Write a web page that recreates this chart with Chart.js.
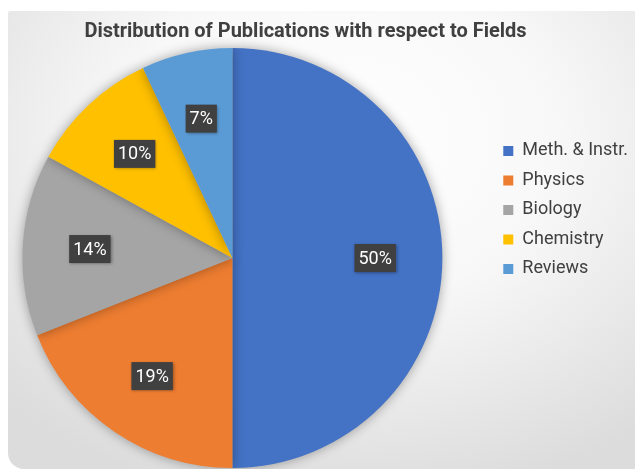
<!DOCTYPE html>
<html>
<head>
<meta charset="utf-8">
<script src="https://cdn.jsdelivr.net/npm/chart.js@4/dist/chart.umd.min.js"></script>
<style>
  html, body { margin: 0; padding: 0; background: #ffffff; overflow: hidden; }
  #wrap { position: relative; width: 635px; height: 469px; overflow: hidden; background: #ffffff; }
  #card {
    position: absolute; left: 8px; top: 11px; width: 640px; height: 458px;
    border-radius: 2px 0 0 16px;
    background: radial-gradient(ellipse 75% 80% at 52% 28%, #ffffff 0%, #f8f8f8 45%, #e6e6e6 80%, #dcdcdc 100%);
  }
  #chart { position: absolute; left: -27px; top: 0; }
</style>
</head>
<body>
<div id="wrap">
  <div id="card"></div>
  <canvas id="chart" width="665" height="469"></canvas>
</div>
<script>
  "use strict";

  var TITLE = "Distribution of Publications with respect to Fields";
  var FIELDS = ["Meth. & Instr.", "Physics", "Biology", "Chemistry", "Reviews"];
  var SHARES = [50, 19, 14, 10, 7];
  var COLORS = ["#4472c4", "#ed7d31", "#a5a5a5", "#ffc000", "#5b9bd5"];

  var INK = "#404040";
  var FONT = "Roboto, 'DejaVu Sans', sans-serif";

  // soft drop shadow under the pie
  var pieShadow = {
    id: "pieShadow",
    beforeDatasetsDraw: function (chart) {
      var ctx = chart.ctx;
      ctx.save();
      ctx.shadowColor = "rgba(0,0,0,0.35)";
      ctx.shadowBlur = 12;
      ctx.shadowOffsetX = 0;
      ctx.shadowOffsetY = 0;
    },
    afterDatasetsDraw: function (chart) {
      chart.ctx.restore();
    }
  };

  // percentage labels in dark boxes
  var sliceLabels = {
    id: "sliceLabels",
    afterDatasetsDraw: function (chart) {
      var ctx = chart.ctx;
      var meta = chart.getDatasetMeta(0);
      var values = chart.data.datasets[0].data;
      ctx.save();
      ctx.font = "18px " + FONT;
      ctx.textAlign = "center";
      ctx.textBaseline = "middle";
      meta.data.forEach(function (arc, i) {
        var p = arc.getProps(["x", "y", "startAngle", "endAngle", "outerRadius"], true);
        var mid = (p.startAngle + p.endAngle) / 2;
        var r = p.outerRadius * 0.68;
        var cx = p.x + Math.cos(mid) * r;
        var cy = p.y + Math.sin(mid) * r;
        var text = values[i] + "%";
        var w = ctx.measureText(text).width + 8;
        var h = 28;
        ctx.shadowColor = "rgba(0,0,0,0.35)";
        ctx.shadowBlur = 3;
        ctx.shadowOffsetX = 1;
        ctx.shadowOffsetY = 1;
        ctx.fillStyle = "#404040";
        ctx.fillRect(cx - w / 2, cy - h / 2, w, h);
        ctx.shadowColor = "transparent";
        ctx.fillStyle = "#ffffff";
        ctx.fillText(text, cx, cy + 1);
      });
      ctx.restore();
    }
  };

  new Chart(document.getElementById("chart"), {
    type: "pie",
    data: {
      labels: FIELDS,
      datasets: [{
        data: SHARES,
        backgroundColor: COLORS,
        borderWidth: 0,
        clip: false
      }]
    },
    options: {
      responsive: false,
      animation: false,
      devicePixelRatio: 1,
      layout: { padding: { left: 0, right: 0, top: 0, bottom: 1 } },
      plugins: {
        title: {
          display: true,
          text: TITLE,
          color: INK,
          font: { family: FONT, size: 20, weight: "bold" },
          padding: { top: 20, bottom: 4 }
        },
        legend: {
          position: "right",
          align: "start",
          title: { display: true, text: " ", color: "rgba(0,0,0,0)", font: { size: 12 }, padding: { top: 116, bottom: 0 } },
          labels: {
            color: INK,
            boxWidth: 10,
            boxHeight: 10,
            padding: 11.5,
            font: { family: FONT, size: 18 }
          }
        },
        tooltip: { enabled: false }
      }
    },
    plugins: [pieShadow, sliceLabels]
  });
</script>
</body>
</html>
